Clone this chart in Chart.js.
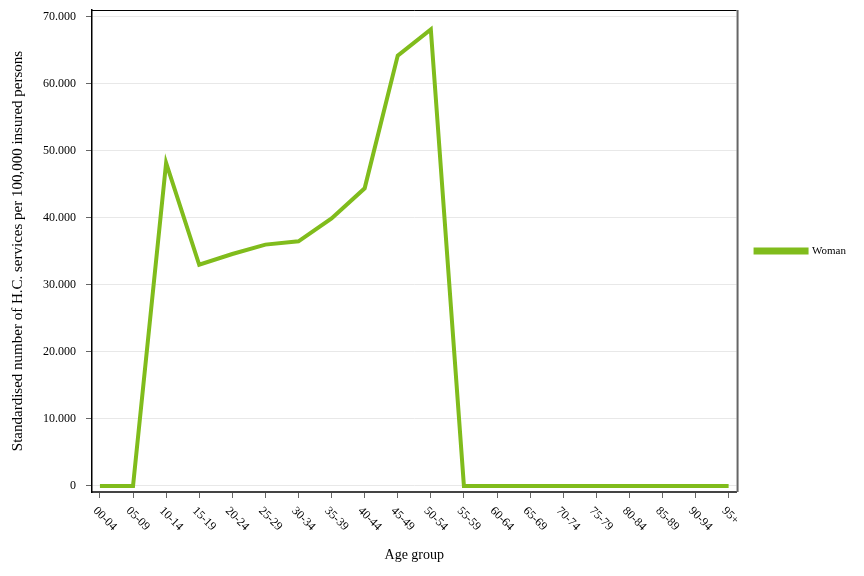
<!DOCTYPE html>
<html>
<head>
<meta charset="utf-8">
<script src="https://cdn.jsdelivr.net/npm/chart.js@4.4.1/dist/chart.umd.min.js"></script>
<style>
  html, body { margin: 0; padding: 0; background: #fff; }
  #wrap { width: 864px; height: 576px; position: relative; }
</style>
</head>
<body>
<div id="wrap"><canvas id="chart"></canvas></div>
<script>
// ===== Data =====
const ageGroups = ['00-04', '05-09', '10-14', '15-19', '20-24', '25-29', '30-34', '35-39', '40-44', '45-49',
    '50-54', '55-59', '60-64', '65-69', '70-74', '75-79', '80-84', '85-89', '90-94', '95+'];
const womanValues = [0, 0, 48200, 33000, 34600, 36000, 36500, 39900, 44400, 64200,
    68100, 0, 0, 0, 0, 0, 0, 0, 0, 0];
const yTicks = [0, 10000, 20000, 30000, 40000, 50000, 60000, 70000];

const FONT = '"Liberation Serif", "DejaVu Serif", serif';
const GREEN = '#80bc1c';

function fmtNum(v) {
    return Number(v).toLocaleString('de-DE');
}

// rotated x labels starting at the tick, going down-right
const xLabelsPlugin = {
    id: 'xLabels',
    afterDraw(chart) {
        const { ctx, scales: { x } } = chart;
        ctx.save();
        ctx.font = '12px ' + FONT;
        ctx.fillStyle = '#000';
        ctx.textAlign = 'left';
        ctx.textBaseline = 'middle';
        ageGroups.forEach((lab, i) => {
            const px = x.getPixelForValue(i);
            ctx.save();
            ctx.translate(px - 5, x.top + 17);
            ctx.rotate(Math.PI / 4);
            ctx.fillText(lab, 0, 0);
            ctx.restore();
        });
        ctx.restore();
    }
};

// top and right frame of the plot box
const framePlugin = {
    id: 'frame',
    afterDraw(chart) {
        const { ctx, chartArea: a } = chart;
        ctx.save();
        ctx.strokeStyle = '#000';
        ctx.lineWidth = 1;
        ctx.beginPath();
        ctx.moveTo(a.left, a.top + 0.5);
        ctx.lineTo(a.right, a.top + 0.5);
        ctx.stroke();
        ctx.strokeStyle = '#666';
        ctx.lineWidth = 2;
        ctx.beginPath();
        ctx.moveTo(a.right + 1, a.top);
        ctx.lineTo(a.right + 1, a.bottom);
        ctx.stroke();
        ctx.restore();
    }
};

new Chart(document.getElementById('chart'), {
    type: 'line',
    data: {
        datasets: [{
            label: 'Woman',
            data: womanValues.map((v, i) => ({ x: i, y: v })),
            borderColor: GREEN,
            backgroundColor: GREEN,
            borderWidth: 4,
            borderJoinStyle: 'miter',
            pointRadius: 0,
            tension: 0
        }]
    },
    options: {
        responsive: true,
        maintainAspectRatio: false,
        animation: false,
        layout: { padding: { top: 10, right: 8, bottom: 12, left: 9 } },
        plugins: {
            tooltip: { enabled: false },
            legend: {
                position: 'right',
                fullSize: false,
                labels: {
                    font: { family: FONT, size: 11 },
                    color: '#000',
                    boxWidth: 51,
                    boxHeight: 3,
                    padding: 19
                }
            }
        },
        scales: {
            x: {
                type: 'linear',
                min: -0.24,
                max: 19.24,
                afterBuildTicks: s => { s.ticks = ageGroups.map((_, i) => ({ value: i })); },
                afterFit: s => { s.height = 72; },
                ticks: { color: 'rgba(0,0,0,0)', font: { family: FONT, size: 12 }, maxRotation: 0, autoSkip: false },
                grid: { drawOnChartArea: false, tickLength: 6, tickColor: '#666', tickWidth: 1 },
                border: { color: '#444', width: 2 },
                title: { display: true, text: 'Age group', font: { family: FONT, size: 14 }, color: '#000', padding: { top: 0, bottom: 0 } }
            },
            y: {
                min: -900,
                max: 71000,
                afterBuildTicks: s => { s.ticks = yTicks.map(v => ({ value: v })); },
                afterFit: s => { s.width = 83; s.paddingTop = 0; s.paddingBottom = 0; },
                ticks: { callback: v => fmtNum(v), font: { family: FONT, size: 12 }, color: '#000', padding: 10 },
                grid: { color: '#e8e8e8', tickLength: 6, tickColor: '#666', tickWidth: 1 },
                border: { color: '#000', width: 1.5 },
                title: { display: true, text: 'Standardised number of H.C. services per 100,000 insured persons', font: { family: FONT, size: 15 }, color: '#000', padding: 0 }
            }
        }
    },
    plugins: [xLabelsPlugin, framePlugin]
});
</script>
</body>
</html>
